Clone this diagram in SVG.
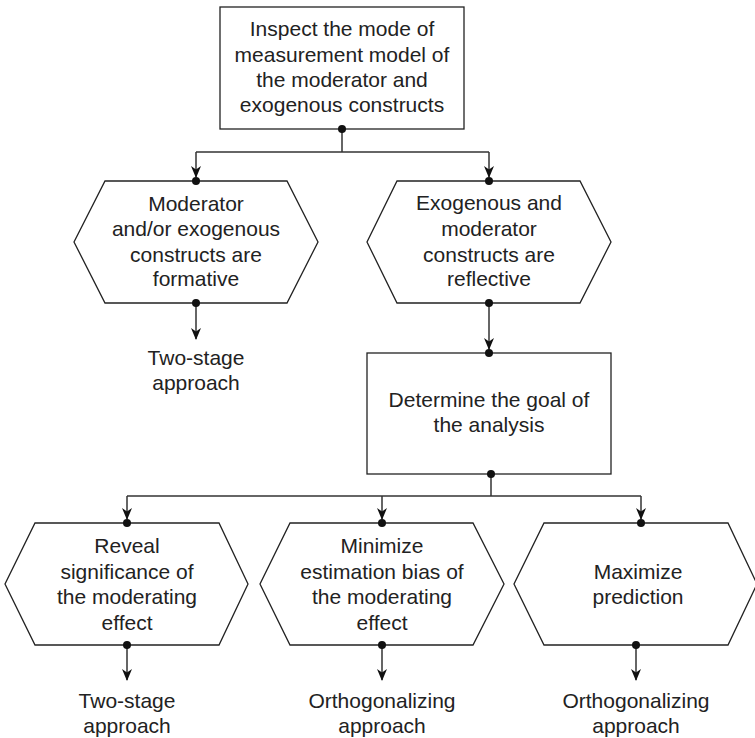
<svg xmlns="http://www.w3.org/2000/svg" width="755" height="738" viewBox="0 0 755 738">
<style>
.shape{fill:#fff;stroke:#222;stroke-width:1.3}
.line{fill:none;stroke:#333;stroke-width:1.5}
.dot{fill:#111}
text{font-family:"Liberation Sans",Arial,sans-serif;font-size:21px;fill:#222;text-anchor:middle}
</style>
<defs>
<marker id="arr" markerWidth="12" markerHeight="12" refX="11" refY="6" orient="auto" markerUnits="userSpaceOnUse" viewBox="0 0 12 12">
<path d="M0,1 L12,6 L0,11 L3.5,6 z" fill="#111"/>
</marker>
</defs>
<rect width="755" height="738" fill="#fff"/>
<g id="connectors">
<path class="line" d="M342,129 V152"/>
<path class="line" d="M196,152 H489"/>
<path class="line" d="M196,152 V177" marker-end="url(#arr)"/>
<path class="line" d="M489,152 V177" marker-end="url(#arr)"/>
<path class="line" d="M196,303 V339" marker-end="url(#arr)"/>
<path class="line" d="M489,303 V349" marker-end="url(#arr)"/>
<path class="line" d="M491,474 V496"/>
<path class="line" d="M127,496 H641"/>
<path class="line" d="M127,496 V519" marker-end="url(#arr)"/>
<path class="line" d="M382,496 V519" marker-end="url(#arr)"/>
<path class="line" d="M641,496 V519" marker-end="url(#arr)"/>
<path class="line" d="M127,645 V680" marker-end="url(#arr)"/>
<path class="line" d="M382,645 V680" marker-end="url(#arr)"/>
<path class="line" d="M636,645 V680" marker-end="url(#arr)"/>
</g>
<g id="n1">
<rect class="shape" x="220" y="7" width="244" height="122"/>
<text x="342" y="36">Inspect the mode of</text>
<text x="342" y="62">measurement model of</text>
<text x="342" y="87">the moderator and</text>
<text x="342" y="112">exogenous constructs</text>
<circle class="dot" cx="342" cy="129" r="4"/>
</g>
<g id="n2">
<polygon class="shape" points="105,181 287,181 318,242 287,303 105,303 74,242"/>
<text x="196" y="211">Moderator</text>
<text x="196" y="236">and/or exogenous</text>
<text x="196" y="262">constructs are</text>
<text x="196" y="286">formative</text>
<circle class="dot" cx="196" cy="181" r="4"/>
<circle class="dot" cx="196" cy="303" r="4"/>
</g>
<g id="n3">
<text x="196" y="365">Two-stage</text>
<text x="196" y="390">approach</text>
</g>
<g id="n4">
<polygon class="shape" points="397,181 580,181 611,242 580,303 397,303 367,242"/>
<text x="489" y="210">Exogenous and</text>
<text x="489" y="236">moderator</text>
<text x="489" y="262">constructs are</text>
<text x="489" y="286">reflective</text>
<circle class="dot" cx="489" cy="181" r="4"/>
<circle class="dot" cx="489" cy="303" r="4"/>
</g>
<g id="n5">
<rect class="shape" x="367" y="353" width="244" height="121"/>
<text x="489" y="407">Determine the goal of</text>
<text x="489" y="432">the analysis</text>
<circle class="dot" cx="489" cy="353" r="4"/>
<circle class="dot" cx="491" cy="474" r="4"/>
</g>
<g id="n6">
<polygon class="shape" points="35,523 219,523 248,584 219,645 35,645 5,584"/>
<text x="127" y="553">Reveal</text>
<text x="127" y="579">significance of</text>
<text x="127" y="604">the moderating</text>
<text x="127" y="630">effect</text>
<circle class="dot" cx="127" cy="523" r="4"/>
<circle class="dot" cx="127" cy="645" r="4"/>
</g>
<g id="n7">
<polygon class="shape" points="290,523 473,523 504,584 473,645 290,645 260,584"/>
<text x="382" y="553">Minimize</text>
<text x="382" y="579">estimation bias of</text>
<text x="382" y="604">the moderating</text>
<text x="382" y="630">effect</text>
<circle class="dot" cx="382" cy="523" r="4"/>
<circle class="dot" cx="382" cy="645" r="4"/>
</g>
<g id="n8">
<polygon class="shape" points="544,523 728,523 757,584 728,645 544,645 514,584"/>
<text x="638" y="579">Maximize</text>
<text x="638" y="604">prediction</text>
<circle class="dot" cx="641" cy="523" r="4"/>
<circle class="dot" cx="636" cy="645" r="4"/>
</g>
<g id="n9">
<text x="127" y="708">Two-stage</text>
<text x="127" y="733">approach</text>
</g>
<g id="n10">
<text x="382" y="708">Orthogonalizing</text>
<text x="382" y="733">approach</text>
</g>
<g id="n11">
<text x="636" y="708">Orthogonalizing</text>
<text x="636" y="733">approach</text>
</g>
</svg>
